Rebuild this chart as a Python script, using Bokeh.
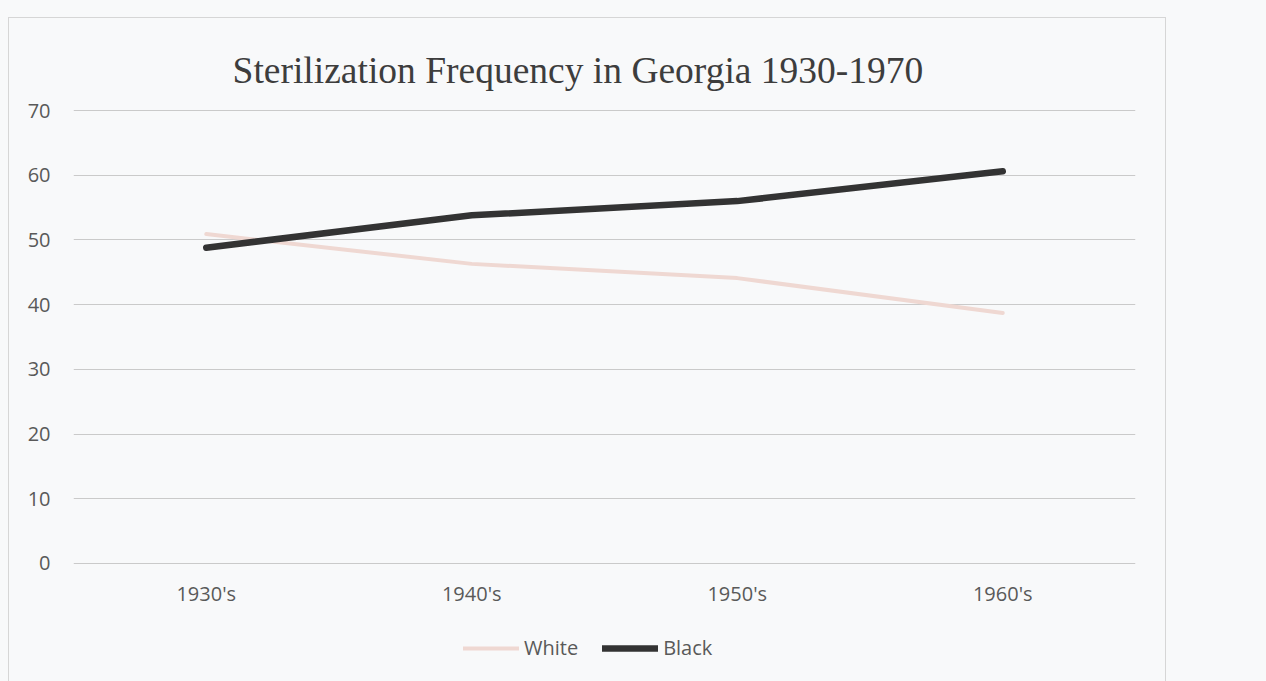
from bokeh.plotting import figure
from bokeh.models import Legend, LegendItem, FixedTicker, Range1d, Label
from bokeh.embed import file_html
from bokeh.resources import INLINE

decades = ["1930's", "1940's", "1950's", "1960's"]
white_vals = [50.9, 46.3, 44.1, 38.7]
black_vals = [48.8, 53.8, 56.0, 60.6]
y_ticks = [0, 10, 20, 30, 40, 50, 60, 70]
title_text = "Sterilization Frequency in Georgia 1930-1970"

BG = "#f8f9fa"
p = figure(x_range=decades, y_range=Range1d(-17.93, 84.22),
           frame_width=1062, frame_height=661,
           output_backend="svg", toolbar_location=None,
           background_fill_color=BG, border_fill_color=BG,
           min_border_left=64, min_border_right=30,
           min_border_top=0, min_border_bottom=10)
p.styles = {"border": "1px solid #d6d6d6", "margin-top": "17px", "margin-left": "8px"}
p.outline_line_color = None

p.xgrid.grid_line_color = None
p.ygrid.grid_line_color = "#cacaca"
p.ygrid.grid_line_width = 1
p.yaxis.ticker = FixedTicker(ticks=y_ticks)
p.xaxis.fixed_location = 0

for ax in (p.xaxis[0], p.yaxis[0]):
    ax.axis_line_color = None
    ax.major_tick_line_color = None
    ax.minor_tick_line_color = None
    ax.major_label_text_font = "Open Sans"
    ax.major_label_text_font_size = "20px"
    ax.major_label_text_color = "#595959"
p.yaxis.major_label_standoff = 17
p.xaxis.major_label_standoff = 11

r_white = p.line(decades, white_vals, line_color="#efd8d2", line_width=4, line_cap="round")
r_black = p.line(decades, black_vals, line_color="#333333", line_width=6.5, line_cap="round")

title = Label(x=1.9, y=76.2, text=title_text,
              text_font="Liberation Serif", text_font_size="37.5px", text_color="#3d3d3d",
              text_align="center", text_baseline="alphabetic")
p.add_layout(title)

legend = Legend(items=[LegendItem(label="White", renderers=[r_white]),
                       LegendItem(label="Black", renderers=[r_black])],
                orientation="horizontal", location=(390, 18),
                glyph_width=56, glyph_height=20, label_height=20, label_standoff=5,
                spacing=24, padding=0, margin=0,
                border_line_color=None, background_fill_alpha=0,
                label_text_font="Open Sans", label_text_font_size="20px",
                label_text_color="#595959")
p.add_layout(legend)

html = file_html(p, INLINE)
html = html.replace("<head>", "<head><style>html,body{background:#f8f9fa;overflow:hidden;}</style>", 1)
open("out.html", "w").write(html)
